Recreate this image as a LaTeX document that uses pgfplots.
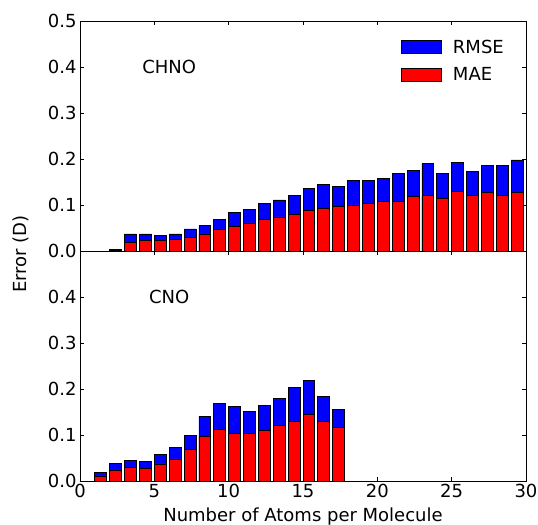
\documentclass[border=0pt]{standalone}
\usepackage{pgfplots}
\usepackage{pgfplotstable}
\pgfplotsset{compat=1.18}
\usepackage{fontspec}
\setmainfont{DejaVu Sans}

\pgfplotstableread{
x rmse mae
2 0.003 0.002
3 0.037 0.018
4 0.037 0.022
5 0.033 0.023
6 0.037 0.026
7 0.048 0.030
8 0.055 0.037
9 0.068 0.046
10 0.083 0.054
11 0.091 0.061
12 0.104 0.068
13 0.111 0.074
14 0.120 0.080
15 0.135 0.088
16 0.145 0.093
17 0.141 0.096
18 0.153 0.100
19 0.154 0.104
20 0.158 0.107
21 0.169 0.107
22 0.176 0.119
23 0.190 0.120
24 0.169 0.115
25 0.192 0.130
26 0.172 0.120
27 0.185 0.128
28 0.186 0.121
29 0.198 0.127
}\chno

\pgfplotstableread{
x rmse mae
1 0.018 0.011
2 0.039 0.024
3 0.044 0.029
4 0.042 0.028
5 0.057 0.037
6 0.072 0.048
7 0.099 0.068
8 0.141 0.096
9 0.168 0.112
10 0.163 0.103
11 0.152 0.104
12 0.164 0.110
13 0.179 0.121
14 0.204 0.130
15 0.219 0.145
16 0.183 0.129
17 0.156 0.116
}\cno

\newcommand{\fs}{\fontsize{18bp}{21bp}\selectfont}

\pgfplotsset{
  every axis/.append style={
    scale only axis, width=446bp, height=230bp,
    xmin=0, xmax=30, ymin=0, ymax=0.5,
    xtick={0,5,10,15,20,25,30},
    tick align=inside, major tick length=4bp,
    tick style={black, line width=0.8pt},
    axis line style={line width=0.8pt},
    ticklabel style={font=\fs},
    /pgf/number format/assume math mode=true,
    yticklabel style={/pgf/number format/.cd, fixed, fixed zerofill, precision=1},
    xtick pos=both, ytick pos=both,
    xticklabel pos=bottom, yticklabel pos=left,
  },
  mybar/.style={ybar, bar width=0.8, bar shift=0.4, draw=black, line width=0.8pt,
    legend image code/.code={\draw[##1] (0bp,-6.5bp) rectangle (40bp,6.5bp);}},
}

\begin{document}
\begin{tikzpicture}
\path[use as bounding box] (-80bp,-44bp) rectangle (458bp,481bp);

\begin{axis}[at={(0,0)}, anchor=south west,
  ytick={0,0.1,0.2,0.3,0.4}]
\addplot[mybar, fill=blue] table[x=x, y=rmse]{\cno};
\addplot[mybar, fill=red] table[x=x, y=mae]{\cno};
\node[font=\fs] at (axis cs:6,0.4) {CNO};
\end{axis}

\begin{axis}[at={(0,230bp)}, anchor=south west,
  ytick={0,0.1,0.2,0.3,0.4,0.5}, xticklabels={},
  legend style={draw=none, fill=none, at={(0.713,0.937)}, anchor=north west,
    font=\fs, row sep=9bp, column sep=9bp},
  legend cell align=left]
\addplot[mybar, fill=blue] table[x=x, y=rmse]{\chno};
\addplot[mybar, fill=red] table[x=x, y=mae]{\chno};
\legend{RMSE, MAE}
\node[font=\fs] at (axis cs:6,0.4) {CHNO};
\end{axis}

\node[font=\fs, anchor=base] at (223bp,-40bp) {Number of Atoms per Molecule};
\node[font=\fs, rotate=90, anchor=base] at (-53.3bp,227bp) {Error (D)};
\end{tikzpicture}
\end{document}
